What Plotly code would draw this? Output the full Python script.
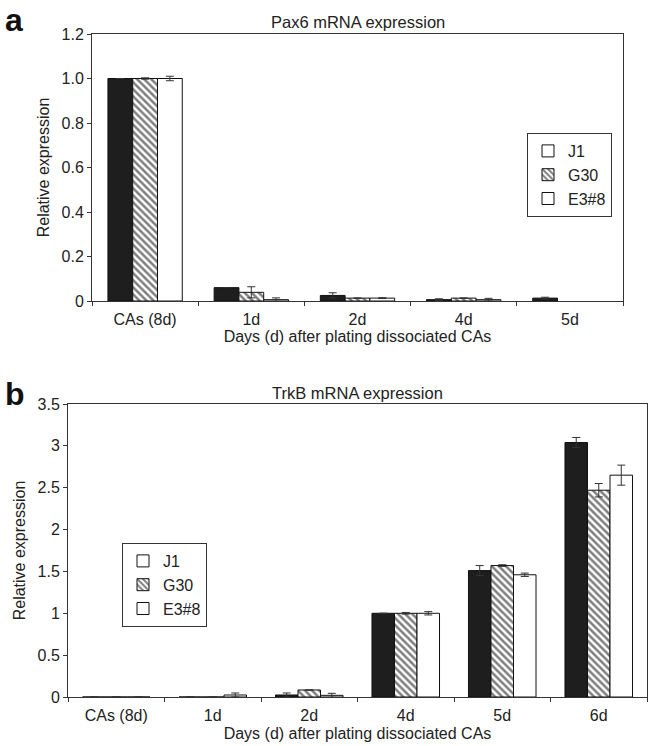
import plotly.graph_objects as go

# ---- data ----
categories_a = ["CAs (8d)", "1d", "2d", "4d", "5d"]
pax6_j1 = [1.0, 0.06, 0.025, 0.006, 0.013]
pax6_j1_err = [0.0, 0.0, 0.012, 0.004, 0.004]
pax6_g30 = [1.0, 0.039, 0.013, 0.013, None]
pax6_g30_err = [0.003, 0.025, 0.0, 0.0, 0.0]
pax6_e38 = [1.0, 0.006, 0.013, 0.006, None]
pax6_e38_err = [0.01, 0.008, 0.002, 0.006, 0.0]

categories_b = ["CAs (8d)", "1d", "2d", "4d", "5d", "6d"]
trkb_j1 = [0, 0, 0.024, 1.0, 1.51, 3.04]
trkb_j1_err = [0, 0, 0.024, 0, 0.06, 0.06]
trkb_g30 = [0, 0, 0.084, 1.0, 1.57, 2.47]
trkb_g30_err = [0, 0, 0, 0.01, 0.01, 0.08]
trkb_e38 = [0, 0.024, 0.02, 1.0, 1.46, 2.65]
trkb_e38_err = [0, 0.024, 0.024, 0.02, 0.02, 0.12]

ticks_a = [0, 0.2, 0.4, 0.6, 0.8, 1.0, 1.2]
ticklabels_a = ["0", "0.2", "0.4", "0.6", "0.8", "1.0", "1.2"]
ticks_b = [0, 0.5, 1, 1.5, 2, 2.5, 3, 3.5]
ticklabels_b = ["0", "0.5", "1", "1.5", "2", "2.5", "3", "3.5"]

series_names = ["J1", "G30", "E3#8"]

FONT = "Liberation Sans, Arial, sans-serif"
LINE = "#333333"
ERR = "#333333"
TXT = "#222222"

styles = [
    dict(color="#1e1e1e", line=dict(color="#111111", width=1)),
    dict(color="white", line=dict(color="#111111", width=1),
         pattern=dict(shape="\\", fgcolor="#000000", bgcolor="white", size=5, solidity=0.5)),
    dict(color="white", line=dict(color="#111111", width=1)),
]

fig = go.Figure()

def add_panel(cats, vals, errs, xa, ya, legend):
    for i, (name, v, e) in enumerate(zip(series_names, vals, errs)):
        fig.add_trace(go.Bar(
            x=cats, y=v, name=name, marker=styles[i],
            error_y=dict(type="data", array=e, color=ERR, thickness=1, width=4),
            xaxis=xa, yaxis=ya, offsetgroup=str(i), legend=legend,
            showlegend=(i != 0), legendrank=i + 1,
        ))
    # legend entry for J1 is shown as an open square in the original
    fig.add_trace(go.Bar(
        x=[cats[0]], y=[None], name=series_names[0],
        marker=dict(color="white", line=dict(color="#111111", width=1)),
        xaxis=xa, yaxis=ya, offsetgroup="0", legend=legend,
        showlegend=True, legendrank=0, hoverinfo="skip",
    ))

add_panel(categories_a, [pax6_j1, pax6_g30, pax6_e38],
          [pax6_j1_err, pax6_g30_err, pax6_e38_err], "x", "y", "legend")
add_panel(categories_b, [trkb_j1, trkb_g30, trkb_e38],
          [trkb_j1_err, trkb_g30_err, trkb_e38_err], "x2", "y2", "legend2")

W, H = 650, 746
def px_x(p): return p / W
def px_y(p): return 1 - p / H

axis_common = dict(showline=True, linecolor=LINE, linewidth=1, mirror=True,
                   showgrid=False, zeroline=False, ticks="outside", ticklen=4,
                   tickcolor=LINE, automargin=False,
                   tickfont=dict(size=16, color=TXT, family=FONT))

xtitle = "Days (d) after plating dissociated CAs"
ytitle = "Relative expression"

fig.update_layout(
    width=W, height=H, margin=dict(l=0, r=0, t=0, b=0, autoexpand=False),
    paper_bgcolor="white", plot_bgcolor="white",
    font=dict(family=FONT, size=16, color=TXT),
    barmode="group", bargap=0.3, bargroupgap=0,
    xaxis=dict(domain=[px_x(92), px_x(623)], anchor="y", tickson="boundaries",
               ticklabelstandoff=4,
               title=dict(text=xtitle, standoff=3, font=dict(size=16)), **axis_common),
    yaxis=dict(domain=[px_y(301), px_y(34)], anchor="x", range=[0, 1.2],
               tickvals=ticks_a, ticktext=ticklabels_a,
               title=dict(text=ytitle, standoff=7, font=dict(size=16)),
               **axis_common),
    xaxis2=dict(domain=[px_x(68), px_x(647)], anchor="y2", tickson="boundaries",
                ticklabelstandoff=4,
                title=dict(text=xtitle, standoff=4, font=dict(size=16)), **axis_common),
    yaxis2=dict(domain=[px_y(697), px_y(404)], anchor="x2", range=[0, 3.5],
                tickvals=ticks_b, ticktext=ticklabels_b,
                title=dict(text=ytitle, standoff=7, font=dict(size=16)),
                **axis_common),
    legend=dict(x=px_x(527), y=px_y(133), xanchor="left", yanchor="top",
                bordercolor=LINE, borderwidth=1, bgcolor="white",
                font=dict(size=16), itemwidth=30, tracegroupgap=0),
    legend2=dict(x=px_x(122), y=px_y(543), xanchor="left", yanchor="top",
                 bordercolor=LINE, borderwidth=1, bgcolor="white",
                 font=dict(size=16), itemwidth=30, tracegroupgap=0),
    annotations=[
        dict(text="Pax6 mRNA expression", x=(px_x(92) + px_x(623)) / 2, y=px_y(22),
             xref="paper", yref="paper", yanchor="middle", showarrow=False,
             font=dict(size=16.5)),
        dict(text="TrkB mRNA expression", x=(px_x(68) + px_x(647)) / 2, y=px_y(393),
             xref="paper", yref="paper", yanchor="middle", showarrow=False,
             font=dict(size=16.5)),
        dict(text="<b>a</b>", x=px_x(3), y=px_y(20), xref="paper", yref="paper",
             xanchor="left", yanchor="middle", showarrow=False,
             font=dict(size=32, color="#111")),
        dict(text="<b>b</b>", x=px_x(3), y=px_y(394), xref="paper", yref="paper",
             xanchor="left", yanchor="middle", showarrow=False,
             font=dict(size=32, color="#111")),
    ],
)

fig.write_html("out.html", config={"displayModeBar": False},
               post_script="document.body.style.margin='0';")
